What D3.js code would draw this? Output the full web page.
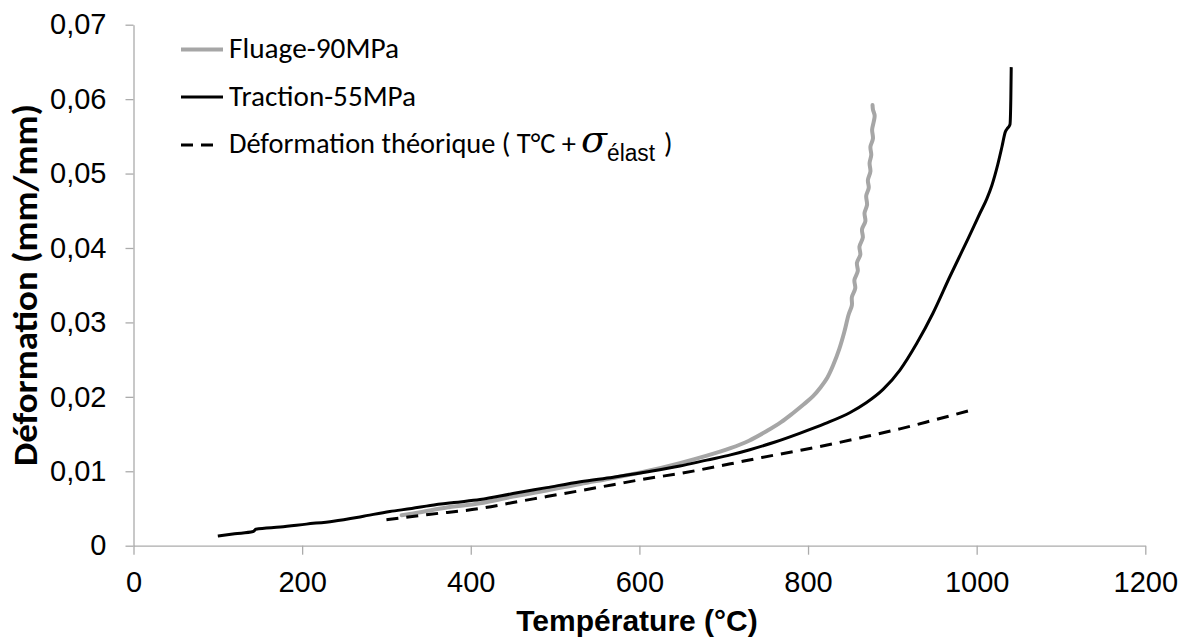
<!DOCTYPE html>
<html>
<head>
<meta charset="utf-8">
<script src="https://cdn.jsdelivr.net/npm/d3@7"></script>
<style>
  html, body { margin: 0; padding: 0; background: #fff; }
  svg { display: block; }
</style>
</head>
<body>
<svg id="chart" width="1187" height="639"></svg>
<script>
// ---------- data ----------
const xTicks = [0, 200, 400, 600, 800, 1000, 1200];
const yTicks = [0, 0.01, 0.02, 0.03, 0.04, 0.05, 0.06, 0.07];

const seriesNames = ["Fluage-90MPa", "Traction-55MPa", "Déformation théorique"];

// Fluage-90MPa : [température °C, déformation]
const fluage = [
  [318,0.0041],[340,0.0045],[370,0.0051],[411,0.0057],[450,0.0066],[490,0.0074],
  [530,0.0083],[569,0.0091],[608,0.0100],[648,0.0111],[680,0.0121],[708,0.0131],
  [730,0.0141],[751,0.0154],[768,0.0166],[782,0.0178],[795,0.0190],[806,0.0201],
  [815,0.0213],[823,0.0226],[830,0.0243],[837,0.0264],[843,0.0287],[848,0.0310],
  [852,0.0323],[852,0.0334],[856,0.0346],[855,0.0357],[859,0.0369],[858,0.0380],
  [862,0.0391],[861,0.0402],[865,0.0414],[864,0.0425],[868,0.0436],[867,0.0447],
  [870,0.0458],[869,0.0470],[872,0.0481],[871,0.0491],[874,0.0503],[873,0.0514],
  [875,0.0525],[874,0.0536],[877,0.0547],[876,0.0559],[878,0.0570],[879,0.0578],
  [877,0.0586],[876.5,0.0592]
];

// Traction-55MPa
const traction = [
  [100,0.0013],[120,0.0016],[142,0.0019],[145,0.0022],[174,0.0025],[205,0.0029],
  [237,0.0033],[270,0.0039],[304,0.0046],[330,0.0050],[352,0.0054],[380,0.0058],
  [411,0.0062],[450,0.0070],[490,0.0078],[530,0.0086],[569,0.0092],[608,0.0099],
  [648,0.0107],[680,0.0115],[708,0.0122],[731,0.0129],[760,0.0139],[790,0.0151],
  [820,0.0164],[850,0.0179],[869,0.0192],[889,0.0210],[909,0.0236],[929,0.0272],
  [948,0.0312],[968,0.0361],[990,0.0413],[1004,0.0447],[1012,0.0466],[1018,0.0484],
  [1025,0.0512],[1030,0.0536],[1034,0.0556],[1036,0.0560],[1039.5,0.0566],
  [1040.5,0.0600],[1041,0.0643]
];

// Déformation théorique (T°C + sigma élast)
const theorique = [
  [300,0.0035],[350,0.0042],[411,0.0050],[450,0.0058],[490,0.0066],[530,0.0074],
  [569,0.0082],[608,0.0090],[648,0.0097],[708,0.0110],[743,0.0118],[790,0.0128],
  [830,0.0137],[870,0.0147],[909,0.0157],[950,0.0169],[990,0.0181]
];

// ---------- chart ----------
const svg = d3.select("#chart");
svg.append("rect").attr("width", 1187).attr("height", 639).attr("fill", "#fff");

const x = d3.scaleLinear().domain([0, 1200]).range([133.5, 1145.3]);
const y = d3.scaleLinear().domain([0, 0.07]).range([545.7, 24.7]);

const axisColor = "#ababab";
const tickFont = "'Liberation Sans', Arial, sans-serif";

const xAxis = svg.append("g")
  .attr("transform", `translate(0,${y(0)})`)
  .call(d3.axisBottom(x).tickValues(xTicks).tickSize(9).tickSizeOuter(0).tickPadding(17)
        .tickFormat(d3.format("d")));

const yAxis = svg.append("g")
  .attr("transform", `translate(${x(0)},0)`)
  .call(d3.axisLeft(y).tickValues(yTicks).tickSize(8).tickSizeOuter(0).tickPadding(19)
        .tickFormat(d => d === 0 ? "0" : d.toFixed(2).replace(".", ",")));

[xAxis, yAxis].forEach(g => {
  g.select(".domain").attr("stroke", axisColor).attr("stroke-width", 1.3);
  g.selectAll(".tick line").attr("stroke", axisColor).attr("stroke-width", 1.3);
  g.selectAll(".tick text").attr("fill", "#000")
    .style("font-family", tickFont).style("font-size", "29px");
});

// lines
const lineMono = d3.line().x(d => x(d[0])).y(d => y(d[1])).curve(d3.curveMonotoneX);
const lineCR = d3.line().x(d => x(d[0])).y(d => y(d[1])).curve(d3.curveCatmullRom.alpha(0.5));

svg.append("path").datum(fluage)
  .attr("d", lineCR).attr("fill", "none")
  .attr("stroke", "#a6a6a6").attr("stroke-width", 4)
  .attr("stroke-linejoin", "round").attr("stroke-linecap", "round");

svg.append("path").datum(traction)
  .attr("d", lineMono).attr("fill", "none")
  .attr("stroke", "#000").attr("stroke-width", 3)
  .attr("stroke-linejoin", "round");

svg.append("path").datum(theorique)
  .attr("d", lineMono).attr("fill", "none")
  .attr("stroke", "#000").attr("stroke-width", 3)
  .attr("stroke-dasharray", "12,8");

// axis titles
svg.append("text")
  .attr("x", 637).attr("y", 631)
  .attr("text-anchor", "middle")
  .style("font-family", tickFont).style("font-weight", "bold").style("font-size", "30px")
  .attr("fill", "#000")
  .text("Température (°C)");

svg.append("text")
  .attr("transform", "translate(37,285) rotate(-90)")
  .attr("text-anchor", "middle")
  .attr("textLength", 362).attr("lengthAdjust", "spacingAndGlyphs")
  .style("font-family", "Carlito, Calibri, Lato, sans-serif")
  .style("font-weight", "bold").style("font-size", "35px")
  .attr("fill", "#000")
  .text("Déformation (mm/mm)");

// legend
const legFont = "Carlito, Calibri, Lato, sans-serif";
const leg = svg.append("g");
const legRows = [
  {name: seriesNames[0], ly: 49.5, ty: 57.5, stroke: "#a6a6a6", w: 4, len: 170},
  {name: seriesNames[1], ly: 97, ty: 105.5, stroke: "#000", w: 3, len: 187}
];
legRows.forEach(r => {
  leg.append("line").attr("x1", 181).attr("x2", 223).attr("y1", r.ly).attr("y2", r.ly)
    .attr("stroke", r.stroke).attr("stroke-width", r.w);
  leg.append("text").attr("x", 229).attr("y", r.ty)
    .attr("textLength", r.len).attr("lengthAdjust", "spacingAndGlyphs")
    .style("font-family", legFont).style("font-size", "28px").attr("fill", "#000")
    .text(r.name);
});
leg.append("line").attr("x1", 181).attr("x2", 214).attr("y1", 145).attr("y2", 145)
  .attr("stroke", "#000").attr("stroke-width", 3).attr("stroke-dasharray", "12,8");
leg.append("text").attr("x", 229).attr("y", 153)
  .attr("textLength", 347).attr("lengthAdjust", "spacingAndGlyphs")
  .style("font-family", legFont).style("font-size", "28px").attr("fill", "#000")
  .text(seriesNames[2] + " ( T°C +");
leg.append("text").attr("x", 581).attr("y", 152)
  .style("font-family", "'DejaVu Serif', 'Liberation Serif', serif")
  .style("font-style", "italic").style("font-weight", "normal").style("font-size", "38px")
  .attr("fill", "#000")
  .text("σ");
leg.append("text").attr("x", 607).attr("y", 161)
  .attr("textLength", 48).attr("lengthAdjust", "spacingAndGlyphs")
  .style("font-family", tickFont).style("font-size", "23px").attr("fill", "#000")
  .text("élast");
leg.append("text").attr("x", 664).attr("y", 153)
  .style("font-family", legFont).style("font-size", "28px").attr("fill", "#000")
  .text(")");
</script>
</body>
</html>
